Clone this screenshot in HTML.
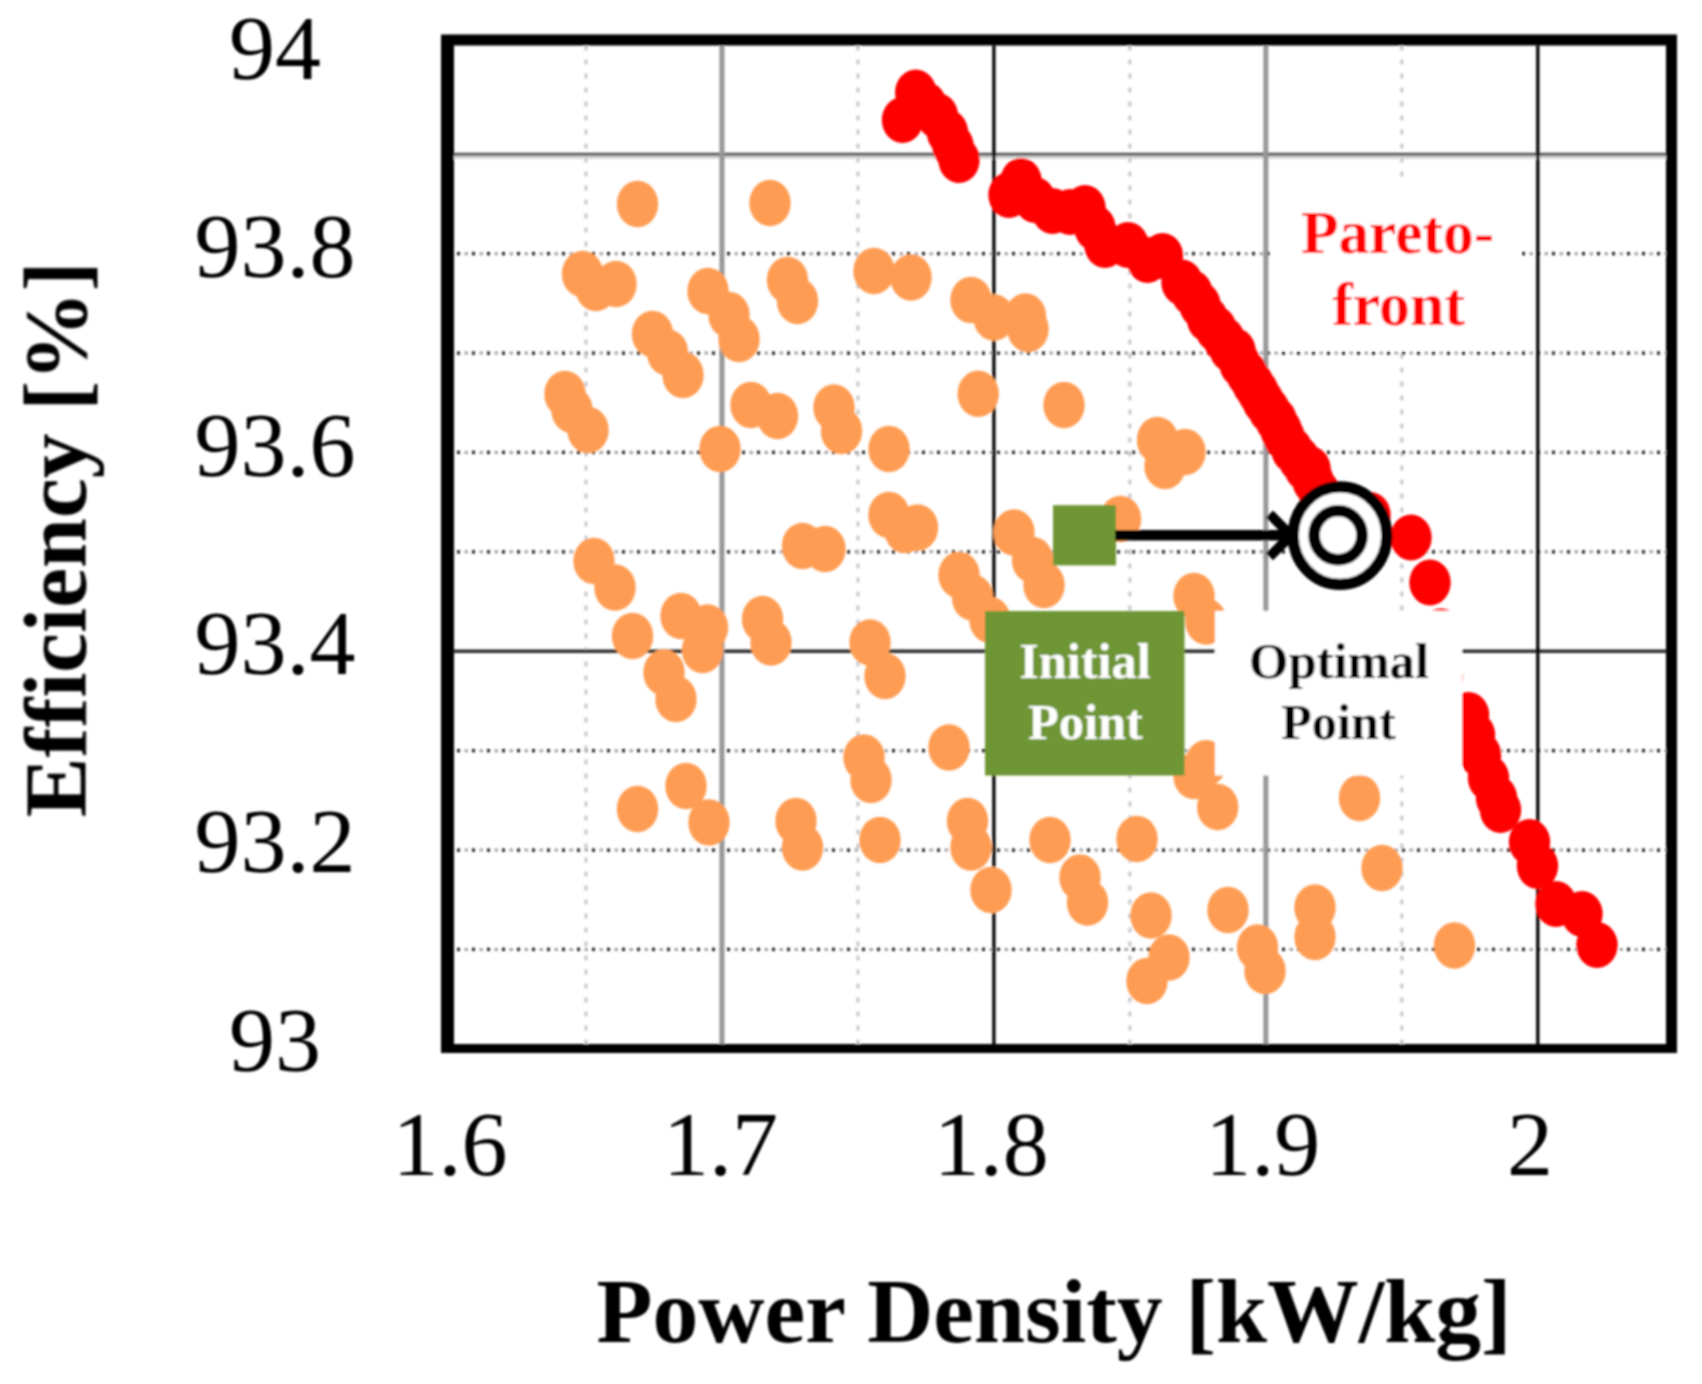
<!DOCTYPE html>
<html lang="en"><head><meta charset="utf-8"><title>Pareto front: Efficiency vs Power Density</title>
<style>html,body{margin:0;padding:0;background:#fff}body{width:1702px;height:1384px;overflow:hidden}svg{display:block}text{font-family:"Liberation Serif","Times New Roman",serif}</style></head><body>
<svg width="1702" height="1384" viewBox="0 0 1702 1384">
<defs><filter id="soft" x="0" y="0" width="1702" height="1384" filterUnits="userSpaceOnUse"><feGaussianBlur stdDeviation="1.1"/></filter></defs>
<rect width="1702" height="1384" fill="#fff"/>
<g filter="url(#soft)">
<g fill="none">
<line x1="585.975" y1="45.5" x2="585.975" y2="1044" stroke="#c6c6c6" stroke-width="3" stroke-dasharray="5 9"/>
<line x1="857.925" y1="45.5" x2="857.925" y2="1044" stroke="#c6c6c6" stroke-width="3" stroke-dasharray="5 9"/>
<line x1="1129.88" y1="45.5" x2="1129.88" y2="1044" stroke="#c6c6c6" stroke-width="3" stroke-dasharray="5 9"/>
<line x1="1401.82" y1="45.5" x2="1401.82" y2="1044" stroke="#c6c6c6" stroke-width="3" stroke-dasharray="5 9"/>
<line x1="457" y1="253.65" x2="1666" y2="253.65" stroke="#161616" stroke-width="3.2" stroke-dasharray="3 12"/>
<line x1="464.5" y1="253.65" x2="1666" y2="253.65" stroke="#a2a2a2" stroke-width="3" stroke-dasharray="3.5 11.5"/>
<line x1="457" y1="353.05" x2="1666" y2="353.05" stroke="#161616" stroke-width="3.2" stroke-dasharray="3 12"/>
<line x1="464.5" y1="353.05" x2="1666" y2="353.05" stroke="#a2a2a2" stroke-width="3" stroke-dasharray="3.5 11.5"/>
<line x1="457" y1="452.45" x2="1666" y2="452.45" stroke="#161616" stroke-width="3.2" stroke-dasharray="3 12"/>
<line x1="464.5" y1="452.45" x2="1666" y2="452.45" stroke="#a2a2a2" stroke-width="3" stroke-dasharray="3.5 11.5"/>
<line x1="457" y1="551.85" x2="1666" y2="551.85" stroke="#161616" stroke-width="3.2" stroke-dasharray="3 12"/>
<line x1="464.5" y1="551.85" x2="1666" y2="551.85" stroke="#a2a2a2" stroke-width="3" stroke-dasharray="3.5 11.5"/>
<line x1="457" y1="750.65" x2="1666" y2="750.65" stroke="#161616" stroke-width="3.2" stroke-dasharray="3 12"/>
<line x1="464.5" y1="750.65" x2="1666" y2="750.65" stroke="#a2a2a2" stroke-width="3" stroke-dasharray="3.5 11.5"/>
<line x1="457" y1="850.05" x2="1666" y2="850.05" stroke="#161616" stroke-width="3.2" stroke-dasharray="3 12"/>
<line x1="464.5" y1="850.05" x2="1666" y2="850.05" stroke="#a2a2a2" stroke-width="3" stroke-dasharray="3.5 11.5"/>
<line x1="457" y1="949.45" x2="1666" y2="949.45" stroke="#161616" stroke-width="3.2" stroke-dasharray="3 12"/>
<line x1="464.5" y1="949.45" x2="1666" y2="949.45" stroke="#a2a2a2" stroke-width="3" stroke-dasharray="3.5 11.5"/>
<line x1="454" y1="157.25" x2="1666" y2="157.25" stroke="#d2d2d2" stroke-width="3"/>
<line x1="454" y1="154.35" x2="1666" y2="154.35" stroke="#585858" stroke-width="3"/>
<line x1="454" y1="651.35" x2="1666" y2="651.35" stroke="#2e2e2e" stroke-width="3.5"/>
<line x1="721.95" y1="45.5" x2="721.95" y2="1044" stroke="#969696" stroke-width="5"/>
<line x1="1265.85" y1="45.5" x2="1265.85" y2="1044" stroke="#969696" stroke-width="5"/>
<line x1="993.9" y1="45.5" x2="993.9" y2="1044" stroke="#000" stroke-width="3.3"/>
<line x1="1537.8" y1="45.5" x2="1537.8" y2="1044" stroke="#000" stroke-width="3.3"/>
</g>
<g fill="#FF9C52">
<ellipse cx="978.2" cy="393.8" rx="20.7" ry="23.2"/>
<ellipse cx="637.5" cy="204" rx="20.7" ry="23.2"/>
<ellipse cx="770" cy="203" rx="20.7" ry="23.2"/>
<ellipse cx="582.5" cy="274" rx="20.7" ry="23.2"/>
<ellipse cx="596" cy="288" rx="20.7" ry="23.2"/>
<ellipse cx="616" cy="284" rx="20.7" ry="23.2"/>
<ellipse cx="708" cy="291" rx="20.7" ry="23.2"/>
<ellipse cx="729" cy="315" rx="20.7" ry="23.2"/>
<ellipse cx="739" cy="339" rx="20.7" ry="23.2"/>
<ellipse cx="787.5" cy="280" rx="20.7" ry="23.2"/>
<ellipse cx="797.5" cy="301" rx="20.7" ry="23.2"/>
<ellipse cx="652.5" cy="334" rx="20.7" ry="23.2"/>
<ellipse cx="667.5" cy="352.5" rx="20.7" ry="23.2"/>
<ellipse cx="683" cy="375" rx="20.7" ry="23.2"/>
<ellipse cx="874" cy="271" rx="20.7" ry="23.2"/>
<ellipse cx="911" cy="277.5" rx="20.7" ry="23.2"/>
<ellipse cx="971" cy="300" rx="20.7" ry="23.2"/>
<ellipse cx="994" cy="317.5" rx="20.7" ry="23.2"/>
<ellipse cx="1025.5" cy="316.5" rx="20.7" ry="23.2"/>
<ellipse cx="1028" cy="329" rx="20.7" ry="23.2"/>
<ellipse cx="565" cy="394" rx="20.7" ry="23.2"/>
<ellipse cx="572" cy="410" rx="20.7" ry="23.2"/>
<ellipse cx="588" cy="430" rx="20.7" ry="23.2"/>
<ellipse cx="720" cy="449" rx="20.7" ry="23.2"/>
<ellipse cx="751" cy="405" rx="20.7" ry="23.2"/>
<ellipse cx="777.5" cy="416" rx="20.7" ry="23.2"/>
<ellipse cx="834" cy="407.5" rx="20.7" ry="23.2"/>
<ellipse cx="841.5" cy="431" rx="20.7" ry="23.2"/>
<ellipse cx="594" cy="561" rx="20.7" ry="23.2"/>
<ellipse cx="615" cy="587.5" rx="20.7" ry="23.2"/>
<ellipse cx="802.5" cy="546" rx="20.7" ry="23.2"/>
<ellipse cx="825" cy="549" rx="20.7" ry="23.2"/>
<ellipse cx="632.5" cy="636" rx="20.7" ry="23.2"/>
<ellipse cx="681" cy="616" rx="20.7" ry="23.2"/>
<ellipse cx="707.5" cy="627.5" rx="20.7" ry="23.2"/>
<ellipse cx="702.5" cy="650" rx="20.7" ry="23.2"/>
<ellipse cx="762.5" cy="619" rx="20.7" ry="23.2"/>
<ellipse cx="771" cy="642.5" rx="20.7" ry="23.2"/>
<ellipse cx="664" cy="672.5" rx="20.7" ry="23.2"/>
<ellipse cx="676" cy="699" rx="20.7" ry="23.2"/>
<ellipse cx="1064" cy="405" rx="20.7" ry="23.2"/>
<ellipse cx="889" cy="449" rx="20.7" ry="23.2"/>
<ellipse cx="1157.5" cy="440" rx="20.7" ry="23.2"/>
<ellipse cx="1185" cy="452" rx="20.7" ry="23.2"/>
<ellipse cx="1165" cy="466" rx="20.7" ry="23.2"/>
<ellipse cx="1120.5" cy="519" rx="20.7" ry="23.2"/>
<ellipse cx="889" cy="515" rx="20.7" ry="23.2"/>
<ellipse cx="917.5" cy="527.5" rx="20.7" ry="23.2"/>
<ellipse cx="905" cy="530" rx="20.7" ry="23.2"/>
<ellipse cx="1014" cy="532.5" rx="20.7" ry="23.2"/>
<ellipse cx="1032.5" cy="560" rx="20.7" ry="23.2"/>
<ellipse cx="1044" cy="585" rx="20.7" ry="23.2"/>
<ellipse cx="959" cy="575" rx="20.7" ry="23.2"/>
<ellipse cx="972.5" cy="597.5" rx="20.7" ry="23.2"/>
<ellipse cx="990" cy="620" rx="20.7" ry="23.2"/>
<ellipse cx="870" cy="642.5" rx="20.7" ry="23.2"/>
<ellipse cx="885" cy="676" rx="20.7" ry="23.2"/>
<ellipse cx="1194" cy="596" rx="20.7" ry="23.2"/>
<ellipse cx="1206" cy="621.5" rx="20.7" ry="23.2"/>
<ellipse cx="637.5" cy="809" rx="20.7" ry="23.2"/>
<ellipse cx="686" cy="786" rx="20.7" ry="23.2"/>
<ellipse cx="709" cy="822.5" rx="20.7" ry="23.2"/>
<ellipse cx="796" cy="821" rx="20.7" ry="23.2"/>
<ellipse cx="802.5" cy="847.5" rx="20.7" ry="23.2"/>
<ellipse cx="864" cy="757.5" rx="20.7" ry="23.2"/>
<ellipse cx="871" cy="780" rx="20.7" ry="23.2"/>
<ellipse cx="949" cy="747.5" rx="20.7" ry="23.2"/>
<ellipse cx="880" cy="840" rx="20.7" ry="23.2"/>
<ellipse cx="967.5" cy="821" rx="20.7" ry="23.2"/>
<ellipse cx="971" cy="847.5" rx="20.7" ry="23.2"/>
<ellipse cx="991" cy="890" rx="20.7" ry="23.2"/>
<ellipse cx="1050" cy="840" rx="20.7" ry="23.2"/>
<ellipse cx="1080" cy="877.5" rx="20.7" ry="23.2"/>
<ellipse cx="1087.5" cy="902.5" rx="20.7" ry="23.2"/>
<ellipse cx="1137" cy="839" rx="20.7" ry="23.2"/>
<ellipse cx="1151" cy="915.5" rx="20.7" ry="23.2"/>
<ellipse cx="1228" cy="910" rx="20.7" ry="23.2"/>
<ellipse cx="1206" cy="763.2" rx="20.7" ry="23.2"/>
<ellipse cx="1194" cy="776" rx="20.7" ry="23.2"/>
<ellipse cx="1217.7" cy="807" rx="20.7" ry="23.2"/>
<ellipse cx="1169" cy="957.5" rx="20.7" ry="23.2"/>
<ellipse cx="1147" cy="981" rx="20.7" ry="23.2"/>
<ellipse cx="1257.5" cy="947.5" rx="20.7" ry="23.2"/>
<ellipse cx="1265" cy="971" rx="20.7" ry="23.2"/>
<ellipse cx="1315" cy="907.5" rx="20.7" ry="23.2"/>
<ellipse cx="1315" cy="937" rx="20.7" ry="23.2"/>
<ellipse cx="1359.5" cy="798" rx="20.7" ry="23.2"/>
<ellipse cx="1382" cy="868" rx="20.7" ry="23.2"/>
<ellipse cx="1454.5" cy="945.5" rx="20.7" ry="23.2"/>
</g>
<g fill="#FF0000">
<ellipse cx="915.75" cy="92.5" rx="20.7" ry="23"/>
<ellipse cx="902.5" cy="120" rx="20.7" ry="23"/>
<ellipse cx="926" cy="105" rx="20.7" ry="23"/>
<ellipse cx="937.5" cy="116" rx="20.7" ry="23"/>
<ellipse cx="947.5" cy="132.5" rx="20.7" ry="23"/>
<ellipse cx="959" cy="160" rx="20.7" ry="23"/>
<ellipse cx="953" cy="146" rx="20.7" ry="23"/>
<ellipse cx="1021" cy="181" rx="20.7" ry="23"/>
<ellipse cx="1009" cy="195" rx="20.7" ry="23"/>
<ellipse cx="1035" cy="200" rx="20.7" ry="23"/>
<ellipse cx="1052.5" cy="211" rx="20.7" ry="23"/>
<ellipse cx="1070" cy="212" rx="20.7" ry="23"/>
<ellipse cx="1085" cy="208" rx="20.7" ry="23"/>
<ellipse cx="1095" cy="228" rx="20.7" ry="23"/>
<ellipse cx="1105" cy="245" rx="20.7" ry="23"/>
<ellipse cx="1128" cy="245" rx="20.7" ry="23"/>
<ellipse cx="1147.5" cy="260" rx="20.7" ry="23"/>
<ellipse cx="1162.5" cy="256" rx="20.7" ry="23"/>
<ellipse cx="1182" cy="282.5" rx="20.7" ry="23"/>
<ellipse cx="1192" cy="293" rx="20.7" ry="23"/>
<ellipse cx="1200" cy="305" rx="20.7" ry="23"/>
<ellipse cx="1207.5" cy="319" rx="20.7" ry="23"/>
<ellipse cx="1216" cy="329" rx="20.7" ry="23"/>
<ellipse cx="1224" cy="339.5" rx="20.7" ry="23"/>
<ellipse cx="1230" cy="349" rx="20.7" ry="23"/>
<ellipse cx="1235" cy="351" rx="20.7" ry="23"/>
<ellipse cx="1240" cy="364" rx="20.7" ry="23"/>
<ellipse cx="1247" cy="374" rx="20.7" ry="23"/>
<ellipse cx="1253" cy="384" rx="20.7" ry="23"/>
<ellipse cx="1258" cy="392" rx="20.7" ry="23"/>
<ellipse cx="1263" cy="401" rx="20.7" ry="23"/>
<ellipse cx="1269" cy="410" rx="20.7" ry="23"/>
<ellipse cx="1276" cy="420" rx="20.7" ry="23"/>
<ellipse cx="1281" cy="430" rx="20.7" ry="23"/>
<ellipse cx="1284" cy="437" rx="20.7" ry="23"/>
<ellipse cx="1292" cy="450" rx="20.7" ry="23"/>
<ellipse cx="1299" cy="459" rx="20.7" ry="23"/>
<ellipse cx="1305" cy="468" rx="20.7" ry="23"/>
<ellipse cx="1310" cy="469" rx="20.7" ry="23"/>
<ellipse cx="1313" cy="481" rx="20.7" ry="23"/>
<ellipse cx="1319" cy="492" rx="20.7" ry="23"/>
<ellipse cx="1370" cy="515" rx="20.7" ry="23"/>
<ellipse cx="1411" cy="537.5" rx="20.7" ry="23"/>
<ellipse cx="1430" cy="582.5" rx="20.7" ry="23"/>
<ellipse cx="1441" cy="631.5" rx="20.7" ry="23"/>
<ellipse cx="1442" cy="678" rx="20.7" ry="23"/>
<ellipse cx="1468.5" cy="715" rx="20.7" ry="23"/>
<ellipse cx="1474.5" cy="735" rx="20.7" ry="23"/>
<ellipse cx="1480.5" cy="755" rx="20.7" ry="23"/>
<ellipse cx="1488.5" cy="778" rx="20.7" ry="23"/>
<ellipse cx="1496.5" cy="798" rx="20.7" ry="23"/>
<ellipse cx="1500.5" cy="810" rx="20.7" ry="23"/>
<ellipse cx="1529.5" cy="842" rx="20.7" ry="23"/>
<ellipse cx="1537.5" cy="866" rx="20.7" ry="23"/>
<ellipse cx="1556" cy="904" rx="20.7" ry="23"/>
<ellipse cx="1582" cy="914" rx="20.7" ry="23"/>
<ellipse cx="1597" cy="945" rx="20.7" ry="23"/>
</g>
<rect x="1272" y="185" width="248" height="165" fill="#fff"/>
<rect x="1215" y="611" width="247" height="164.5" fill="#fff"/>
<rect x="985" y="611" width="199.5" height="164.5" fill="#6E9636"/>
<path fill="#000" fill-rule="evenodd" d="M441 34.5H1677V1053H441Z M454 45.5H1666V1044H454Z"/>
<rect x="1053" y="505.2" width="63" height="60.2" fill="#6E9636"/>
<line x1="1115" y1="535.3" x2="1284" y2="535.3" stroke="#000" stroke-width="10.5"/>
<polyline points="1269.5,514 1291,535.4 1269.5,556.8" fill="none" stroke="#000" stroke-width="10" stroke-linecap="butt" stroke-linejoin="miter"/>
<ellipse cx="1340" cy="535.6" rx="46.8" ry="48.8" fill="#fff" stroke="#000" stroke-width="11.2"/>
<ellipse cx="1338.1" cy="535.3" rx="24" ry="24.5" fill="#fff" stroke="#000" stroke-width="11.6"/>
<g font-weight="bold" text-anchor="middle">
<text x="1397.5" y="252.5" font-size="61.4" fill="#FF0000">Pareto-</text>
<text x="1398.5" y="325.3" font-size="61.8" fill="#FF0000">front</text>
<text x="1085" y="677.5" font-size="50.4" fill="#fff">Initial</text>
<text x="1085.5" y="738.5" font-size="50.4" fill="#fff">Point</text>
<text x="1339" y="677.5" font-size="50.6" fill="#000">Optimal</text>
<text x="1338.5" y="738.5" font-size="50.4" fill="#000">Point</text>
</g>
<g font-size="92" text-anchor="middle" fill="#000">
<text x="275" y="78.7">94</text>
<text x="275" y="277.1">93.8</text>
<text x="275" y="475.5">93.6</text>
<text x="275" y="673.9">93.4</text>
<text x="275" y="872.3">93.2</text>
<text x="275" y="1070.7">93</text>
<text x="450" y="1174.5">1.6</text>
<text x="720.6" y="1174.5">1.7</text>
<text x="991.25" y="1174.5">1.8</text>
<text x="1262.8" y="1174.5">1.9</text>
<text x="1530" y="1174.5">2</text>
</g>
<text x="1054" y="1341.5" font-size="91.7" font-weight="bold" text-anchor="middle" fill="#000">Power Density [kW/kg]</text>
<text transform="translate(85.5 539.3) rotate(-90)" font-size="89.8" font-weight="bold" text-anchor="middle" fill="#000">Efficiency [%]</text>
</g>
</svg></body></html>
